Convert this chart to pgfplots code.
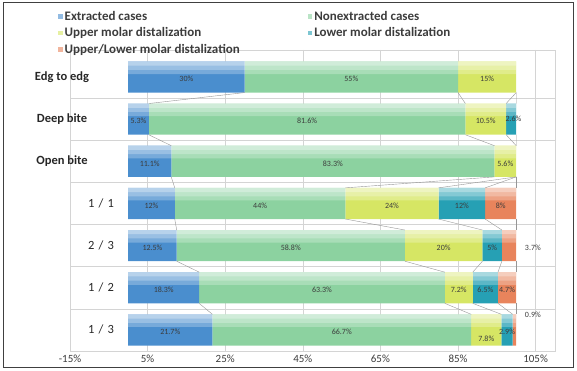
\documentclass[border=0pt]{standalone}
\usepackage{pgfplots}
\pgfplotsset{compat=1.18}
\usepackage{fontspec}
\setmainfont{Carlito}

\definecolor{cExt}{RGB}{74,142,206}
\definecolor{cNon}{RGB}{140,210,160}
\definecolor{cUp}{RGB}{214,230,100}
\definecolor{cLow}{RGB}{38,160,180}
\definecolor{cUL}{RGB}{232,132,92}
\definecolor{gridc}{RGB}{212,212,212}
\definecolor{txt}{RGB}{60,60,60}
\definecolor{serl}{RGB}{150,150,150}

\pgfplotsset{
  frameaxis/.style={
    scale only axis, width=485pt, height=301pt,
    at={(70pt,20pt)}, anchor=south west,
    xmin=-15, xmax=110, ymin=-0.64, ymax=6.5, y dir=reverse,
  },
  seg/.style={draw=none, fill=#1},
}

\begin{document}
\begin{tikzpicture}
\useasboundingbox (0,0) rectangle (577pt,371pt);
\draw[black!75, line width=1pt] (3pt,3pt) rectangle (573pt,368pt);

% stacked bars, axis frame, grid and legend
\begin{axis}[frameaxis,
  xbar stacked, bar width=0.74,
  axis line style={gridc},
  xtick={-15,5,...,105},
  xticklabel={\pgfmathprintnumber[assume math mode=true]{\tick}\%},
  xticklabel style={font=\fontsize{11}{12}\selectfont, text=txt},
  ytick={0,...,6},
  yticklabels={
    {\makebox[0pt]{\textbf{Edg to edg}}},
    {\makebox[0pt]{\textbf{Deep bite}}},
    {\makebox[0pt]{\textbf{Open bite}}},
    {\makebox[0pt]{\hspace*{78pt}1\,\,/\,\,1}},
    {\makebox[0pt]{\hspace*{78pt}2\,\,/\,\,3}},
    {\makebox[0pt]{\hspace*{78pt}1\,\,/\,\,2}},
    {\makebox[0pt]{\hspace*{78pt}1\,\,/\,\,3}}},
  yticklabel style={anchor=center, xshift=-8pt, font=\fontsize{12.5}{13}\selectfont, text=black!85},
  minor ytick={0.5,1.5,...,5.5},
  xmajorgrids, yminorgrids,
  major grid style={gridc}, minor grid style={gridc},
  major tick length=0pt, minor tick length=0pt,
  legend columns=2,
  legend cell align=left,
  legend image code/.code={\fill[#1, opacity=0.6] (0pt,-2.5pt) rectangle (4.5pt,2pt);},
  legend style={at={(-0.031,1.143)}, anchor=north west, draw=none, fill=none,
    font=\bfseries\fontsize{13}{14}\selectfont, text=txt, row sep=1.8pt,
    /tikz/every even column/.append style={column sep=66pt}},
]
\addplot[seg=cExt] coordinates {(30,0) (5.3,1) (11.1,2) (12,3) (12.5,4) (18.3,5) (21.7,6)};
\addplot[seg=cNon] coordinates {(55,0) (81.6,1) (83.3,2) (44,3) (58.8,4) (63.3,5) (66.7,6)};
\addplot[seg=cUp]  coordinates {(15,0) (10.5,1) (5.6,2) (24,3) (20,4) (7.2,5) (7.8,6)};
\addplot[seg=cLow] coordinates {(0,0) (2.6,1) (0,2) (12,3) (5,4) (6.5,5) (2.9,6)};
\addplot[seg=cUL]  coordinates {(0,0) (0,1) (0,2) (8,3) (3.7,4) (4.7,5) (0.9,6)};
\legend{Extracted cases, Nonextracted cases, Upper molar distalization, Lower molar distalization, Upper/Lower molar distalization}
\end{axis}

% glossy top band on each bar, series lines and value labels
\begin{axis}[frameaxis, hide axis, clip=false, unbounded coords=jump]
\addplot[xbar, bar width=0.30, bar shift=-0.22, draw=none, fill=white, fill opacity=0.25]
  coordinates {(100,0) (100,1) (100,2) (100,3) (100,4) (100,5) (100,6)};
\addplot[xbar, bar width=0.20, bar shift=-0.27, draw=none, fill=white, fill opacity=0.25]
  coordinates {(100,0) (100,1) (100,2) (100,3) (100,4) (100,5) (100,6)};
\addplot[xbar, bar width=0.10, bar shift=-0.32, draw=none, fill=white, fill opacity=0.3]
  coordinates {(100,0) (100,1) (100,2) (100,3) (100,4) (100,5) (100,6)};

\addplot[serl, line width=0.4pt] coordinates {
  (30,0.37) (5.3,0.63) (nan,nan) (5.3,1.37) (11.1,1.63) (nan,nan)
  (11.1,2.37) (12,2.63) (nan,nan) (12,3.37) (12.5,3.63) (nan,nan)
  (12.5,4.37) (18.3,4.63) (nan,nan) (18.3,5.37) (21.7,5.63)};
\addplot[serl, line width=0.4pt] coordinates {
  (85,0.37) (86.9,0.63) (nan,nan) (86.9,1.37) (94.4,1.63) (nan,nan)
  (94.4,2.37) (56,2.63) (nan,nan) (56,3.37) (71.3,3.63) (nan,nan)
  (71.3,4.37) (81.6,4.63) (nan,nan) (81.6,5.37) (88.4,5.63)};
\addplot[serl, line width=0.4pt] coordinates {
  (100,0.37) (97.4,0.63) (nan,nan) (97.4,1.37) (100,1.63) (nan,nan)
  (100,2.37) (80,2.63) (nan,nan) (80,3.37) (91.3,3.63) (nan,nan)
  (91.3,4.37) (88.8,4.63) (nan,nan) (88.8,5.37) (96.2,5.63)};
\addplot[serl, line width=0.4pt] coordinates {
  (100,0.37) (100,0.63) (nan,nan) (100,1.37) (100,1.63) (nan,nan)
  (100,2.37) (92,2.63) (nan,nan) (92,3.37) (96.3,3.63) (nan,nan)
  (96.3,4.37) (95.3,4.63) (nan,nan) (95.3,5.37) (99.1,5.63)};
\addplot[serl, line width=0.4pt] coordinates {
  (100,2.37) (100,2.63) (nan,nan) (100,3.37) (100,3.63) (nan,nan)
  (100,4.37) (100,4.63) (nan,nan) (100,5.37) (100,5.63)};

\addplot[draw=none, nodes near coords, point meta=explicit symbolic,
  nodes near coords align={center},
  every node near coord/.append style={font=\fontsize{8}{9}\selectfont, text=txt, inner sep=0pt}]
  coordinates {
  (15,0.05) [30\%] (57.5,0.05) [55\%] (92.5,0.05) [15\%]
  (2.65,1.05) [5.3\%] (46.1,1.05) [81.6\%] (92.15,1.05) [10.5\%] (99.3,1.0) [2.6\%]
  (5.55,2.05) [11.1\%] (52.75,2.05) [83.3\%] (97.2,2.05) [5.6\%]
  (6,3.05) [12\%] (34,3.05) [44\%] (68,3.05) [24\%] (86,3.05) [12\%] (96,3.05) [8\%]
  (6.25,4.05) [12.5\%] (41.9,4.05) [58.8\%] (81.3,4.05) [20\%] (93.8,4.05) [5\%] (104.3,4.05) [3.7\%]
  (9.15,5.05) [18.3\%] (49.95,5.05) [63.3\%] (85.2,5.05) [7.2\%] (92.05,5.05) [6.5\%] (97.65,5.05) [4.7\%]
  (10.85,6.05) [21.7\%] (55.05,6.05) [66.7\%] (92.3,6.2) [7.8\%] (97.65,6.05) [2.9\%] (104.3,5.65) [0.9\%]
  };
\end{axis}
\end{tikzpicture}
\end{document}
